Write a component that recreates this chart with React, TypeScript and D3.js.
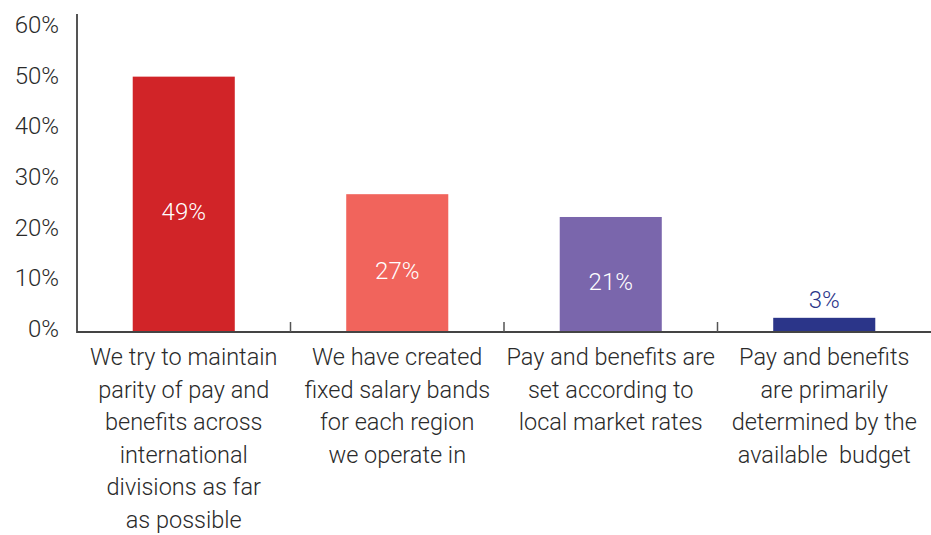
import React from "react";
import * as d3 from "d3";

const categories = ["cat1", "cat2", "cat3", "cat4"];
const categoryLabels = [
  ["We try to maintain", "parity of pay and", "benefits across", "international", "divisions as far", "as possible"],
  ["We have created", "fixed salary bands", "for each region", "we operate in"],
  ["Pay and benefits are", "set according to", "local market rates"],
  ["Pay and benefits", "are primarily", "determined by the", "available  budget"],
];
// bar heights
const values = [50.4, 27.2, 22.7, 2.8];
// printed value labels
const valueLabels = ["49%", "27%", "21%", "3%"];
const barColors = ["#d12428", "#f1645c", "#7a66ac", "#2b3589"];
const valueLabelColors = ["#ffffff", "#ffffff", "#ffffff", "#2b3589"];
const valueInside = [true, true, true, false];
const yTicks = [0, 10, 20, 30, 40, 50, 60];

const W = 931;
const H = 535;
const left = 77;
const right = 931;
const baseline = 332;
const top60 = 28;
const font = "Roboto, 'Open Sans', sans-serif";

export default function App() {
  const x = d3
    .scaleBand<string>()
    .domain(categories)
    .range([left, right])
    .paddingInner(0.522)
    .paddingOuter(0.261);
  const y = d3.scaleLinear().domain([0, 60]).range([baseline, top60]);
  const step = x.step();
  const pad = (step * 0.522) / 2;

  return (
    <svg
      width={W}
      height={H}
      style={{ position: "absolute", left: 0, top: 0, background: "#fff" }}
      fontFamily={font}
    >
      {/* bars */}
      {categories.map((c, i) => (
        <rect
          key={c}
          x={x(c)!}
          y={y(values[i])}
          width={x.bandwidth()}
          height={baseline - y(values[i])}
          fill={barColors[i]}
        />
      ))}
      {/* value labels */}
      {categories.map((c, i) => {
        const cx = x(c)! + x.bandwidth() / 2;
        const cy = valueInside[i]
          ? (y(values[i]) + baseline) / 2 + 8
          : y(values[i]) - 18;
        return (
          <text
            key={c}
            x={cx}
            y={cy}
            textAnchor="middle"
            dominantBaseline="central"
            fontSize={24}
            fontWeight={300}
            fill={valueLabelColors[i]}
          >
            {valueLabels[i]}
          </text>
        );
      })}
      {/* y axis */}
      <line x1={left} x2={left} y1={14} y2={baseline + 1} stroke="#555" strokeWidth={2} />
      {yTicks.map((t) => (
        <text
          key={t}
          x={59}
          y={y(t) - 3}
          textAnchor="end"
          dominantBaseline="central"
          fontSize={24}
          fontWeight={300}
          fill="#2a2a2a"
        >
          {`${t}%`}
        </text>
      ))}
      {/* x axis */}
      <line x1={left} x2={right} y1={baseline} y2={baseline} stroke="#444" strokeWidth={2} />
      {categories.slice(1).map((c) => (
        <line
          key={c}
          x1={x(c)! - pad}
          x2={x(c)! - pad}
          y1={baseline}
          y2={baseline - 10}
          stroke="#555"
          strokeWidth={1.5}
        />
      ))}
      {/* category labels */}
      {categories.map((c, i) => (
        <text
          key={c}
          x={x(c)! + x.bandwidth() / 2}
          y={358}
          textAnchor="middle"
          fontSize={23.5}
          fontWeight={300}
          fill="#2a2a2a"
          style={{ whiteSpace: "pre" }}
        >
          {categoryLabels[i].map((line, j) => (
            <tspan
              key={j}
              x={x(c)! + x.bandwidth() / 2}
              y={357 + j * 32.6}
              dominantBaseline="central"
            >
              {line}
            </tspan>
          ))}
        </text>
      ))}
    </svg>
  );
}
